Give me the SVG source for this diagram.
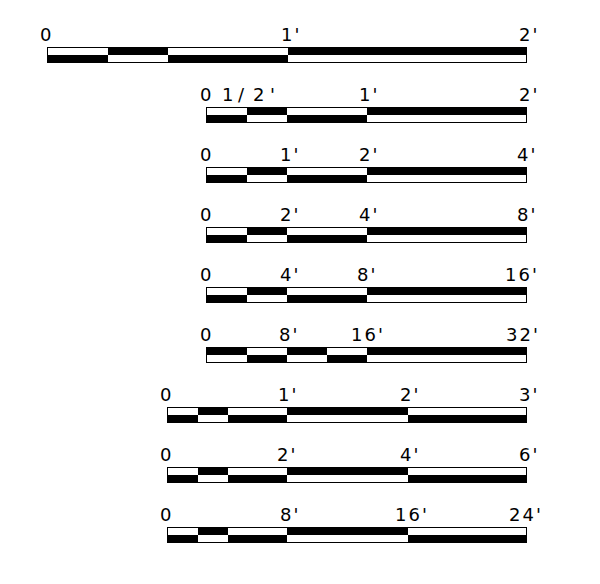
<svg xmlns="http://www.w3.org/2000/svg" width="600" height="584" viewBox="0 0 600 584">
  <style>
    .bg { fill: #ffffff; }
    .blk { fill: #000000; }
    .frame { fill: none; stroke: #000000; stroke-width: 1; }
    .lbl { font-family: "DejaVu Sans", "Liberation Sans", sans-serif; font-size: 18px; fill: #000000; letter-spacing: 2px; }
  </style>
  <rect class="bg" x="0" y="0" width="600" height="584"/>

  <!-- Scale 1: 0 - 2' -->
  <g id="scale-2ft-a">
    <rect class="blk" x="108" y="47.5" width="60" height="7.5"/>
    <rect class="blk" x="288" y="47.5" width="239" height="7.5"/>
    <rect class="blk" x="48" y="55" width="60" height="7.5"/>
    <rect class="blk" x="168" y="55" width="120" height="7.5"/>
    <rect class="frame" x="47.5" y="47.5" width="479" height="15"/>
    <text class="lbl" x="40" y="40.5">0</text>
    <text class="lbl" x="281" y="40.5">1'</text>
    <text class="lbl" x="519" y="40.5">2'</text>
  </g>

  <!-- Scale 2: 0 - 1/2' - 1' - 2' -->
  <g id="scale-2ft-b">
    <rect class="blk" x="247" y="107.5" width="40" height="7.5"/>
    <rect class="blk" x="367" y="107.5" width="160" height="7.5"/>
    <rect class="blk" x="207" y="115" width="40" height="7.5"/>
    <rect class="blk" x="287" y="115" width="80" height="7.5"/>
    <rect class="frame" x="206.5" y="107.5" width="320" height="15"/>
    <text class="lbl" x="200" y="100.5">0</text>
    <text class="lbl" x="222 238 253 270" y="100.5" style="letter-spacing:0">1/2'</text>
    <text class="lbl" x="359" y="100.5">1'</text>
    <text class="lbl" x="519" y="100.5">2'</text>
  </g>

  <!-- Scale 3: 0 - 1' - 2' - 4' -->
  <g id="scale-4ft">
    <rect class="blk" x="247" y="167.5" width="40" height="7.5"/>
    <rect class="blk" x="367" y="167.5" width="160" height="7.5"/>
    <rect class="blk" x="207" y="175" width="40" height="7.5"/>
    <rect class="blk" x="287" y="175" width="80" height="7.5"/>
    <rect class="frame" x="206.5" y="167.5" width="320" height="15"/>
    <text class="lbl" x="200" y="160.5">0</text>
    <text class="lbl" x="280" y="160.5">1'</text>
    <text class="lbl" x="359" y="160.5">2'</text>
    <text class="lbl" x="517" y="160.5">4'</text>
  </g>

  <!-- Scale 4: 0 - 2' - 4' - 8' -->
  <g id="scale-8ft">
    <rect class="blk" x="247" y="227.5" width="40" height="7.5"/>
    <rect class="blk" x="367" y="227.5" width="160" height="7.5"/>
    <rect class="blk" x="207" y="235" width="40" height="7.5"/>
    <rect class="blk" x="287" y="235" width="80" height="7.5"/>
    <rect class="frame" x="206.5" y="227.5" width="320" height="15"/>
    <text class="lbl" x="200" y="220.5">0</text>
    <text class="lbl" x="280" y="220.5">2'</text>
    <text class="lbl" x="359" y="220.5">4'</text>
    <text class="lbl" x="517" y="220.5">8'</text>
  </g>

  <!-- Scale 5: 0 - 4' - 8' - 16' -->
  <g id="scale-16ft">
    <rect class="blk" x="247" y="287.5" width="40" height="7.5"/>
    <rect class="blk" x="367" y="287.5" width="160" height="7.5"/>
    <rect class="blk" x="207" y="295" width="40" height="7.5"/>
    <rect class="blk" x="287" y="295" width="80" height="7.5"/>
    <rect class="frame" x="206.5" y="287.5" width="320" height="15"/>
    <text class="lbl" x="200" y="280.5">0</text>
    <text class="lbl" x="280" y="280.5">4'</text>
    <text class="lbl" x="357" y="280.5">8'</text>
    <text class="lbl" x="505" y="280.5">16'</text>
  </g>

  <!-- Scale 6: 0 - 8' - 16' - 32' -->
  <g id="scale-32ft">
    <rect class="blk" x="207" y="347.5" width="40" height="7.5"/>
    <rect class="blk" x="287" y="347.5" width="40" height="7.5"/>
    <rect class="blk" x="367" y="347.5" width="160" height="7.5"/>
    <rect class="blk" x="247" y="355" width="40" height="7.5"/>
    <rect class="blk" x="327" y="355" width="40" height="7.5"/>
    <rect class="frame" x="206.5" y="347.5" width="320" height="15"/>
    <text class="lbl" x="200" y="340.5">0</text>
    <text class="lbl" x="279" y="340.5">8'</text>
    <text class="lbl" x="351" y="340.5">16'</text>
    <text class="lbl" x="506" y="340.5">32'</text>
  </g>

  <!-- Scale 7: 0 - 1' - 2' - 3' -->
  <g id="scale-3ft">
    <rect class="blk" x="198" y="407.5" width="30" height="7.5"/>
    <rect class="blk" x="287" y="407.5" width="121" height="7.5"/>
    <rect class="blk" x="168" y="415" width="30" height="7.5"/>
    <rect class="blk" x="228" y="415" width="59" height="7.5"/>
    <rect class="blk" x="408" y="415" width="119" height="7.5"/>
    <rect class="frame" x="167.5" y="407.5" width="359" height="15"/>
    <text class="lbl" x="160" y="400.5">0</text>
    <text class="lbl" x="278" y="400.5">1'</text>
    <text class="lbl" x="400" y="400.5">2'</text>
    <text class="lbl" x="519" y="400.5">3'</text>
  </g>

  <!-- Scale 8: 0 - 2' - 4' - 6' -->
  <g id="scale-6ft">
    <rect class="blk" x="198" y="467.5" width="30" height="7.5"/>
    <rect class="blk" x="287" y="467.5" width="121" height="7.5"/>
    <rect class="blk" x="168" y="475" width="30" height="7.5"/>
    <rect class="blk" x="228" y="475" width="59" height="7.5"/>
    <rect class="blk" x="408" y="475" width="119" height="7.5"/>
    <rect class="frame" x="167.5" y="467.5" width="359" height="15"/>
    <text class="lbl" x="160" y="460.5">0</text>
    <text class="lbl" x="277" y="460.5">2'</text>
    <text class="lbl" x="400" y="460.5">4'</text>
    <text class="lbl" x="519" y="460.5">6'</text>
  </g>

  <!-- Scale 9: 0 - 8' - 16' - 24' -->
  <g id="scale-24ft">
    <rect class="blk" x="198" y="527.5" width="30" height="7.5"/>
    <rect class="blk" x="287" y="527.5" width="121" height="7.5"/>
    <rect class="blk" x="168" y="535" width="30" height="7.5"/>
    <rect class="blk" x="228" y="535" width="59" height="7.5"/>
    <rect class="blk" x="408" y="535" width="119" height="7.5"/>
    <rect class="frame" x="167.5" y="527.5" width="359" height="15"/>
    <text class="lbl" x="160" y="520.5">0</text>
    <text class="lbl" x="280" y="520.5">8'</text>
    <text class="lbl" x="395" y="520.5">16'</text>
    <text class="lbl" x="509" y="520.5">24'</text>
  </g>

  <g id="connectors"></g>
</svg>
